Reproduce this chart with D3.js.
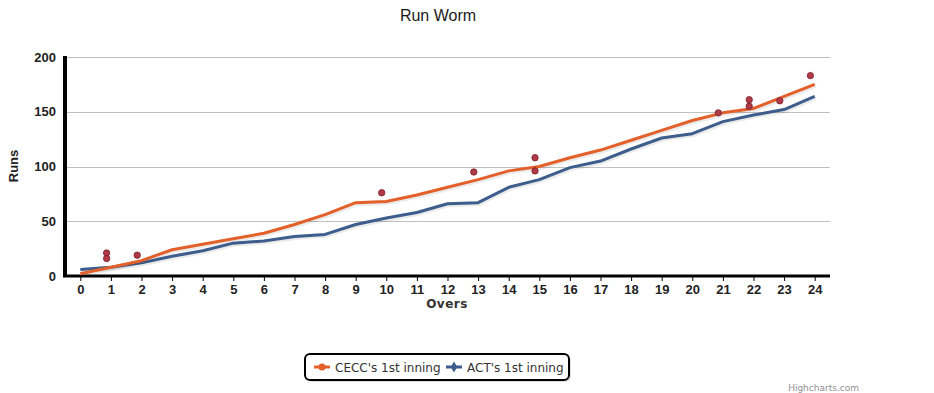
<!DOCTYPE html>
<html>
<head>
<meta charset="utf-8">
<script src="https://cdn.jsdelivr.net/npm/d3@7"></script>
<style>
  body { margin: 0; background: #fff; }
  svg { display: block; }
</style>
</head>
<body>
<div id="chart"></div>
<script>
const width = 934,
  height = 393;

const overs = d3.range(0, 25);
const ceccRuns = [2, 8, 14, 24, 29, 34, 39, 47, 56, 67, 68, 74, 81, 88, 96, 100, 108, 115, 124, 133, 142, 149, 153, 164, 175];
const actRuns = [6, 8, 12, 18, 23, 30, 32, 36, 38, 47, 53, 58, 66, 67, 81, 88, 99, 105, 116, 126, 130, 141, 147, 152, 164];
const wicketOvers = [0.86, 0.86, 1.86, 9.85, 12.86, 14.86, 14.86, 20.85, 21.86, 21.86, 22.86, 23.86];
const wicketRuns = [21, 16, 19, 76, 95, 108, 96, 149, 161, 155, 160, 183];
const yTicks = [0, 50, 100, 150, 200];

const plot = { left: 65, right: 830, top: 57, bottom: 276 };

const x = d3
  .scaleLinear()
  .domain([-0.5, 24.5])
  .range([plot.left, plot.right]);
const y = d3
  .scaleLinear()
  .domain([0, 200])
  .range([plot.bottom, plot.top]);

const svg = d3
  .select("#chart")
  .append("svg")
  .attr("width", width)
  .attr("height", height);

const font = "'Liberation Sans', Arial, sans-serif";

// title
svg
  .append("text")
  .attr("x", 438)
  .attr("y", 21)
  .attr("text-anchor", "middle")
  .attr("font-family", font)
  .attr("font-size", 16)
  .attr("fill", "#1a1a1a")
  .text("Run Worm");

// grid
svg
  .append("g")
  .selectAll("line")
  .data(yTicks.filter((d) => d > 0))
  .enter()
  .append("line")
  .attr("x1", plot.left)
  .attr("x2", plot.right)
  .attr("y1", (d) => Math.round(y(d)) + 0.5)
  .attr("y2", (d) => Math.round(y(d)) + 0.5)
  .attr("stroke", "#c0c0c0")
  .attr("stroke-width", 1);

// y axis
const yAxis = svg
  .append("g")
  .attr("transform", `translate(${plot.left},0)`)
  .call(d3.axisLeft(y).tickValues(yTicks).tickSize(0).tickPadding(9));
yAxis.select(".domain").remove();
yAxis
  .selectAll("text")
  .attr("font-family", font)
  .attr("font-size", 13)
  .attr("font-weight", "bold")
  .attr("fill", "#222");
svg
  .append("line")
  .attr("x1", plot.left)
  .attr("x2", plot.left)
  .attr("y1", plot.top - 1)
  .attr("y2", plot.bottom + 1)
  .attr("stroke", "#000")
  .attr("stroke-width", 4);

// x axis
const xAxis = svg
  .append("g")
  .attr("transform", `translate(0,${plot.bottom})`)
  .call(d3.axisBottom(x).tickValues(overs).tickFormat(d3.format("d")).tickSize(5).tickPadding(4));
xAxis.select(".domain").remove();
xAxis.selectAll(".tick line").attr("stroke", "#000");
xAxis
  .selectAll("text")
  .attr("font-family", font)
  .attr("font-size", 13)
  .attr("font-weight", "bold")
  .attr("fill", "#222");
svg
  .append("line")
  .attr("x1", plot.left - 2)
  .attr("x2", plot.right)
  .attr("y1", plot.bottom)
  .attr("y2", plot.bottom)
  .attr("stroke", "#000")
  .attr("stroke-width", 3);

// axis titles
svg
  .append("text")
  .attr("x", 447)
  .attr("y", 308)
  .attr("text-anchor", "middle")
  .attr("font-family", "'DejaVu Sans', Verdana, sans-serif")
  .attr("font-size", 12)
  .attr("font-weight", "bold")
  .attr("letter-spacing", 0.5)
  .attr("fill", "#333")
  .text("Overs");
svg
  .append("text")
  .attr("transform", `translate(18,166) rotate(-90)`)
  .attr("text-anchor", "middle")
  .attr("font-family", font)
  .attr("font-size", 13)
  .attr("font-weight", "bold")
  .attr("fill", "#222")
  .text("Runs");

// series
const series = [
  { name: "CECC's 1st inning", values: ceccRuns, color: "#e4602a", marker: "circle" },
  { name: "ACT's 1st inning", values: actRuns, color: "#3d5e8c", marker: "diamond" },
];

const line = d3
  .line()
  .x((d, i) => x(overs[i]))
  .y((d) => y(d));

const lines = svg.append("g");
series
  .slice()
  .reverse()
  .forEach((s) => {
    lines
      .append("path")
      .attr("d", line(s.values))
      .attr("transform", "translate(1,1)")
      .attr("fill", "none")
      .attr("stroke", "#000")
      .attr("stroke-opacity", 0.08)
      .attr("stroke-width", 5);
    lines
      .append("path")
      .attr("d", line(s.values))
      .attr("fill", "none")
      .attr("stroke", s.color)
      .attr("stroke-width", 3)
      .attr("stroke-linejoin", "round");
  });

// wickets
svg
  .append("g")
  .selectAll("circle")
  .data(wicketOvers)
  .enter()
  .append("circle")
  .attr("cx", (d) => x(d))
  .attr("cy", (d, i) => y(wicketRuns[i]))
  .attr("r", 3.2)
  .attr("fill", "#b03a48")
  .attr("stroke", "#7a1f2a")
  .attr("stroke-width", 0.8);

// legend
const legend = svg.append("g").attr("transform", "translate(305,354)");
legend
  .append("rect")
  .attr("x", 2)
  .attr("y", 2)
  .attr("width", 264)
  .attr("height", 26)
  .attr("rx", 5)
  .attr("fill", "#000")
  .attr("fill-opacity", 0.12);
legend
  .append("rect")
  .attr("width", 264)
  .attr("height", 26)
  .attr("rx", 5)
  .attr("fill", "#fff")
  .attr("stroke", "#000")
  .attr("stroke-width", 2);

const itemX = [9, 141];
series.forEach((s, i) => {
  const g = legend.append("g").attr("transform", `translate(${itemX[i]},13)`);
  g.append("line")
    .attr("x1", 0)
    .attr("x2", 16)
    .attr("stroke", s.color)
    .attr("stroke-width", 3);
  g.append("path")
    .attr("d", d3.symbol(s.marker === "circle" ? d3.symbolCircle : d3.symbolDiamond, s.marker === "circle" ? 40 : 36)())
    .attr("transform", "translate(8,0)")
    .attr("fill", s.color);
  g.append("text")
    .attr("x", 21)
    .attr("y", 4.5)
    .attr("font-family", "'DejaVu Sans', Verdana, sans-serif")
    .attr("font-size", 12)
    .attr("fill", "#333")
    .text(s.name);
});

// credit
svg
  .append("text")
  .attr("x", 859)
  .attr("y", 391)
  .attr("text-anchor", "end")
  .attr("font-family", "'DejaVu Sans', Verdana, sans-serif")
  .attr("font-size", 9)
  .attr("fill", "#909090")
  .text("Highcharts.com");
</script>
</body>
</html>
